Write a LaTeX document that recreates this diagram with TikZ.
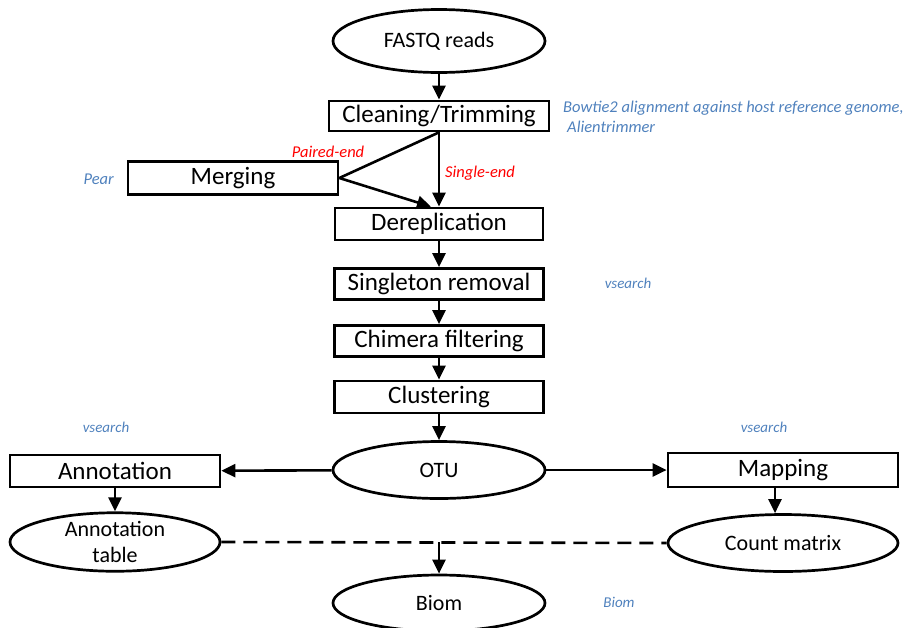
\documentclass[tikz,border=0pt]{standalone}
\usepackage{fontspec}
\setmainfont{Carlito}
\usetikzlibrary{shapes.geometric,arrows.meta}
\definecolor{toolblue}{RGB}{79,129,189}
\tikzstyle{stepbox} = [rectangle, draw=black, line width=2.7pt, minimum width=209pt, minimum height=31pt, inner sep=0pt, font=\fontsize{25}{28}\selectfont]
\tikzstyle{datafile} = [ellipse, draw=black, line width=2.7pt, minimum width=212pt, minimum height=57pt, inner sep=0pt, align=center, font=\fontsize{22}{26}\selectfont]
\tikzstyle{flow} = [line width=2.6pt,->,>={Triangle[length=14pt,width=13pt]}]
\tikzstyle{link} = [line width=2.6pt]
\tikzstyle{dashlink} = [line width=2.6pt,dash pattern=on 14pt off 8pt]
\tikzstyle{tool} = [text=toolblue, font=\fontsize{15}{20}\selectfont\itshape, inner sep=0pt]
\tikzstyle{branch} = [text=red, font=\fontsize{16.5}{19}\selectfont\itshape, inner sep=0pt]
\begin{document}
\begin{tikzpicture}[x=1pt,y=1pt,node distance=57pt]
    \useasboundingbox (0,0) rectangle (909,-627);

    \node (fastq) [datafile, minimum height=63pt] at (439,-41) {FASTQ reads};
    \node (clean) [stepbox, below of=fastq, yshift=-18pt, minimum width=220pt, minimum height=30pt] {Cleaning/Trimming};
    \node (derep) [stepbox, below of=clean, yshift=-51pt, minimum width=208pt, minimum height=32pt] {Dereplication};
    \node (merge) [stepbox, left of=derep, xshift=-149pt, yshift=46pt, minimum width=210pt, minimum height=33pt] {Merging};
    \node (single) [stepbox, below of=derep, yshift=-3pt] {Singleton removal};
    \node (chimera) [stepbox, below of=single] {Chimera filtering};
    \node (cluster) [stepbox, below of=chimera, yshift=1pt, minimum height=32pt] {Clustering};
    \node (otu) [datafile, below of=cluster, yshift=-16pt] {OTU};
    \node (annot) [stepbox, left of=otu, xshift=-267pt, yshift=-1pt, minimum width=210pt, minimum height=32pt] {Annotation};
    \node (mapping) [stepbox, right of=otu, xshift=287pt, minimum width=230pt, minimum height=34pt] {Mapping};
    \node (antab) [datafile, below of=annot, yshift=-14pt, minimum width=210pt, minimum height=55pt] {Annotation\\table};
    \node (count) [datafile, below of=mapping, yshift=-16pt, minimum width=230pt] {Count matrix};
    \node (biom) [datafile, below of=otu, yshift=-76pt, minimum height=56pt] {Biom};
    \coordinate (merge2biom) at (antab.east -| biom.north);

    % tools and branches
    \node (bowtie) [tool, anchor=west, align=left, font=\fontsize{16.5}{20}\selectfont\itshape] at (563,-117) {Bowtie2 alignment against host reference genome,\\\hspace{4pt}Alientrimmer};
    \node (pear) [tool, anchor=east, font=\fontsize{16.5}{20}\selectfont\itshape] at (114,-179) {Pear};
    \node (paired) [branch] at (328,-152) {Paired-end};
    \node (singleend) [branch] at (480,-173) {Single-end};
    \node (vsearch1) [tool] at (628,-283) {vsearch};
    \node (vsearch2) [tool] at (106,-427) {vsearch};
    \node (vsearch3) [tool] at (764,-427) {vsearch};
    \node (biomtool) [tool] at (619,-602) {Biom};

    \draw [flow] (fastq) -- (clean);
    \draw [flow] (clean.south) -- (derep.north);
    \draw [link] (clean.south) -- (merge.east);
    \draw [flow] (merge.east) -- ([xshift=-8pt]derep.north);
    \draw [flow] (derep) -- (single);
    \draw [flow] (single) -- (chimera);
    \draw [flow] (chimera) -- (cluster);
    \draw [flow] (cluster) -- (otu);
    \draw [flow] (otu) -- (annot);
    \draw [flow] (otu) -- (mapping);
    \draw [flow] (annot.south) -- (antab.north);
    \draw [flow] ([xshift=-8pt]mapping.south) -- ([xshift=-8pt]count.north);
    \draw [dashlink] (antab.east) -- (count.west);
    \draw [flow] (merge2biom) -- (biom);
\end{tikzpicture}
\end{document}
